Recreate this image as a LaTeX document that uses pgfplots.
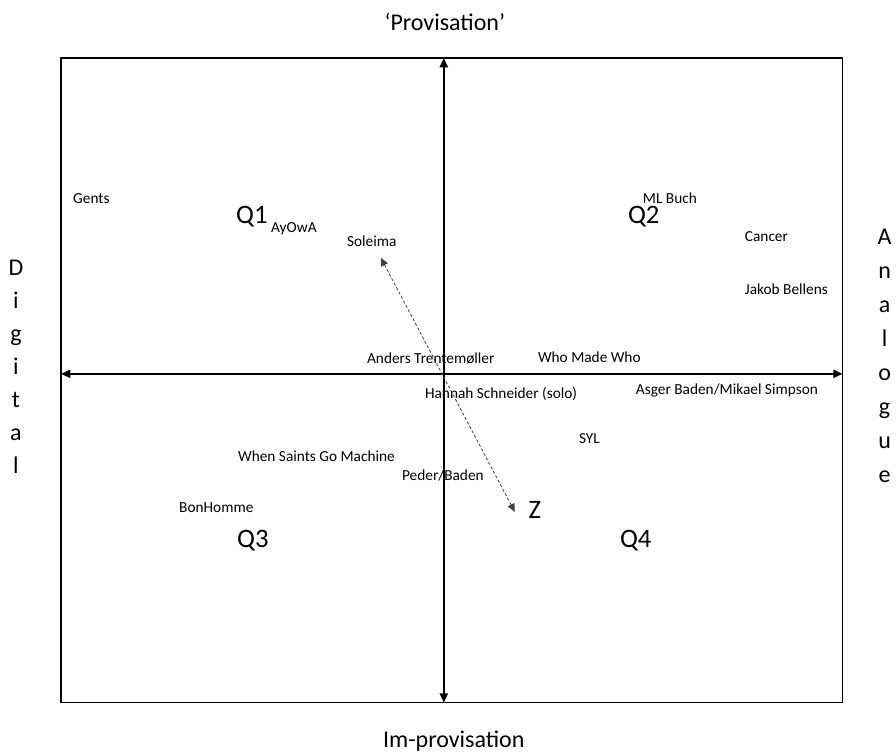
\documentclass[border=0pt]{standalone}
\usepackage{pgfplots}
\pgfplotsset{compat=1.18}
\usepackage{fontspec}
\setmainfont{Carlito}
\usetikzlibrary{arrows.meta}
\begin{document}
\begin{tikzpicture}
\begin{axis}[
  scale only axis,
  width=586.5pt, height=483.75pt,
  xmin=61, xmax=843, ymin=58, ymax=703,
  y dir=reverse,
  xtick=\empty, ytick=\empty,
  axis line style={line width=1pt},
  clip=false,
]
% bounding box of the full picture (896 x 754 px)
\path (axis cs:0,0) rectangle (axis cs:896,754);

% main axes
\addplot[line width=1.6pt, {Triangle[length=7pt,width=6pt]}-{Triangle[length=7pt,width=6pt]}] coordinates {(444,703) (444,58)};
\addplot[line width=1.6pt, {Triangle[length=7pt,width=6pt]}-{Triangle[length=7pt,width=6pt]}] coordinates {(61,374) (843,374)};

% dashed arrow
\addplot[line width=0.6pt, black!75, dash pattern=on 2.2pt off 1.6pt, {Triangle[length=6pt,width=5.5pt]}-{Triangle[length=6pt,width=5.5pt]}] coordinates {(515,512) (381,258)};

% outer labels
\node[font=\fontsize{18}{22}\selectfont] at (axis cs:445,22) {‘Provisation’};
\node[font=\fontsize{18}{22}\selectfont] at (axis cs:454,741) {Im-provisation};

\begin{scope}[every node/.style={font=\fontsize{18}{22}\selectfont, anchor=base}]
\node at (axis cs:16,276) {D};
\node at (axis cs:16,309) {i};
\node at (axis cs:16,342) {g};
\node at (axis cs:16,375) {i};
\node at (axis cs:16,408) {t};
\node at (axis cs:16,441) {a};
\node at (axis cs:16,474) {l};
\node at (axis cs:885,245) {A};
\node at (axis cs:885,279) {n};
\node at (axis cs:885,313) {a};
\node at (axis cs:885,347) {l};
\node at (axis cs:885,381) {o};
\node at (axis cs:885,415) {g};
\node at (axis cs:885,449) {u};
\node at (axis cs:885,483) {e};
\end{scope}

% quadrant labels
\begin{scope}[every node/.style={font=\fontsize{20}{24}\selectfont}]
\node at (axis cs:252,217) {Q1};
\node at (axis cs:644,217) {Q2};
\node at (axis cs:253,541) {Q3};
\node at (axis cs:636,541) {Q4};
\node at (axis cs:535,510) {Z};
\end{scope}

% artist labels
\begin{scope}[every node/.style={font=\fontsize{11.5}{13}\selectfont, anchor=west, inner sep=0pt}]
\node at (axis cs:73,199) {Gents};
\node at (axis cs:271,229) {AyOwA};
\node at (axis cs:347,241) {Soleima};
\node at (axis cs:643,198) {ML Buch};
\node at (axis cs:745,237) {Cancer};
\node at (axis cs:745,289) {Jakob Bellens};
\node at (axis cs:579,439) {SYL};
\node at (axis cs:179,508) {BonHomme};
\node at (axis cs:367,359) {Anders Trentemøller};
\node at (axis cs:538,357) {Who Made Who};
\node at (axis cs:425,394) {Hannah Schneider (solo)};
\node at (axis cs:636,391) {Asger Baden/Mikael Simpson};
\node at (axis cs:238,456) {When Saints Go Machine};
\node at (axis cs:402,476) {Peder/Baden};
\end{scope}
\end{axis}
\end{tikzpicture}
\end{document}
